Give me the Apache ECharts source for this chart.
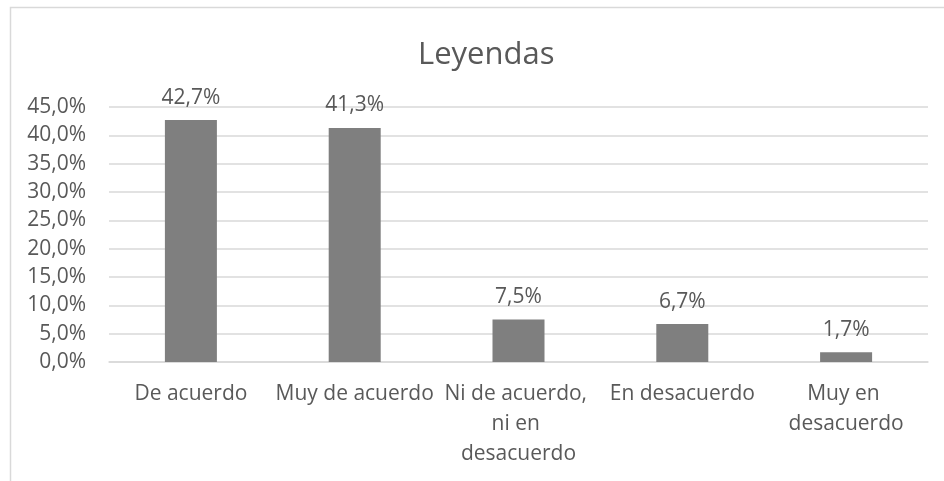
<!DOCTYPE html>
<html>
<head>
<meta charset="utf-8">
<script src="https://cdn.jsdelivr.net/npm/echarts@6/dist/echarts.min.js"></script>
<style>
  html, body { margin: 0; padding: 0; background: #fff; }
  #main { width: 944px; height: 481px; }
</style>
</head>
<body>
<div id="main"></div>
<script>
var categories = ['De acuerdo', 'Muy de acuerdo', 'Ni de acuerdo, ni en desacuerdo', 'En desacuerdo', 'Muy en desacuerdo'];
var values = [42.7, 41.3, 7.5, 6.7, 1.7];

var myChart = echarts.init(document.getElementById('main'));
var option;

function pct(v, digits) {
  return v.toFixed(digits).replace('.', ',') + '%';
}

option = {
  backgroundColor: '#fff',
  textStyle: { fontFamily: 'Open Sans' },
  title: {
    text: 'Leyendas',
    left: 413,
    top: 35,
    textStyle: { fontSize: 31, fontWeight: 'normal', color: '#595959', fontFamily: 'Open Sans' }
  },
  graphic: [{
    type: 'rect',
    shape: { x: 10.5, y: 7.5, width: 960, height: 500 },
    style: { fill: 'none', stroke: '#d9d9d9', lineWidth: 1.5 },
    silent: true
  }],
  grid: { left: 109, right: 16, top: 107, bottom: 119 },
  xAxis: {
    type: 'category',
    data: categories,
    axisLine: { lineStyle: { color: '#d9d9d9', width: 1.5 } },
    axisTick: { show: false },
    axisLabel: {
      interval: 0,
      color: '#595959',
      fontSize: 21,
      lineHeight: 30,
      margin: 17,
      width: 164,
      overflow: 'break'
    }
  },
  yAxis: {
    type: 'value',
    min: 0,
    max: 45,
    interval: 5,
    axisLine: { show: false },
    axisTick: { show: false },
    splitLine: { lineStyle: { color: '#d9d9d9', width: 1.5 } },
    axisLabel: {
      color: '#595959',
      fontSize: 21,
      margin: 23,
      formatter: function (v) { return pct(v, 1); }
    }
  },
  series: [{
    type: 'bar',
    data: values,
    barWidth: 52,
    itemStyle: { color: '#7f7f7f' },
    label: {
      show: true,
      position: 'top',
      distance: 12,
      color: '#595959',
      fontSize: 21,
      formatter: function (p) { return pct(p.value, 1); }
    }
  }]
};

option && myChart.setOption(option);
</script>
</body>
</html>
